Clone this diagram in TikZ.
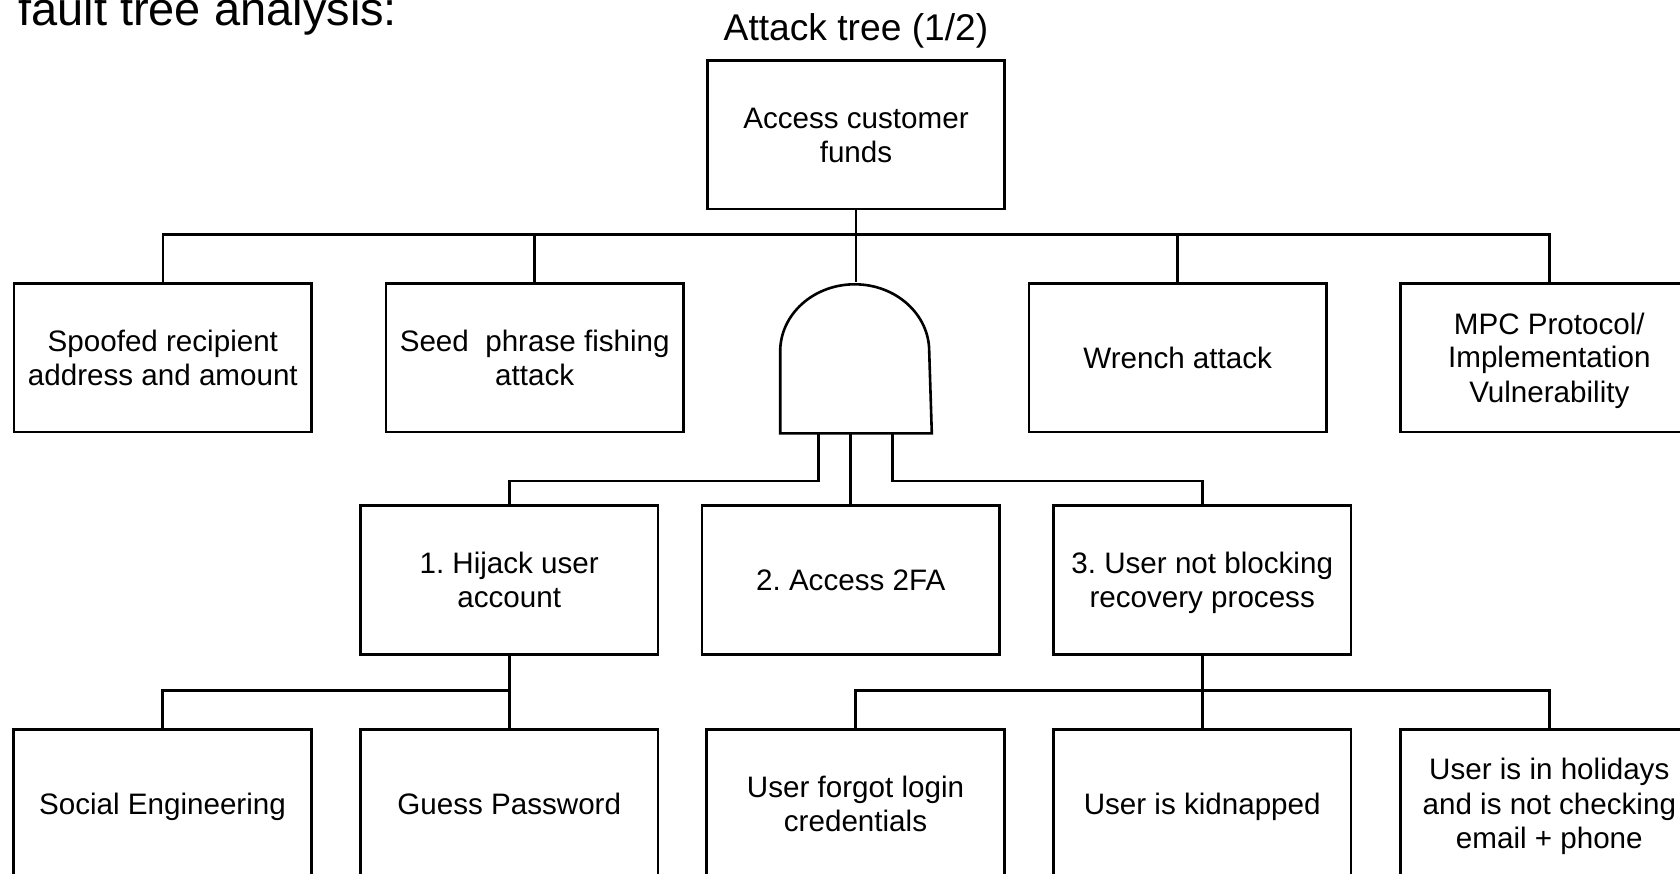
\documentclass[tikz,border=0pt]{standalone}
\usepackage{fontspec}
\setmainfont{Liberation Sans}
\frenchspacing
% strut placed at the start of every text line: equal height and depth per line
\newcommand{\strutline}{\rule[-6.1pt]{0pt}{33.3pt}}
\begin{document}
\begin{tikzpicture}[x=1pt,y=-1pt,
  line width=2.6pt, line join=miter,
  box/.style={draw, rectangle, minimum width=297.5pt, minimum height=148.7pt,
    inner sep=0pt, align=center, font=\fontsize{29.6}{33.3}\selectfont},
  gatebox/.style={rectangle, minimum width=149pt, minimum height=148.7pt, inner sep=0pt},
  link/.style={draw}]
\fill[white] (0,0) rectangle (1680,874);
\useasboundingbox (0,0) rectangle (1680,874);
\clip (0,0) rectangle (1680,874);

% headings
\node[anchor=base west, inner sep=0pt, font=\fontsize{47}{56}\selectfont] (heading) at (17,26) {fault tree analysis:};
\node[anchor=base, inner sep=0pt, font=\fontsize{37.2}{44}\selectfont] (title) at (856,41) {Attack tree (1/2)};

% top event
\node[box, minimum height=148.3pt] (root) at (856,134.85) {\strutline Access customer\\\strutline funds};

% first level
\node[box] (spoof)  at (162.85,357.65) {\strutline Spoofed recipient\\\strutline address and amount};
\node[box] (seed)   at (534.7,357.65)  {\strutline Seed\ \ phrase fishing\\\strutline attack};
\node[gatebox] (gate) at (856,357.65) {};
\node[box] (wrench) at (1177.65,357.65) {\strutline Wrench attack};
\node[box] (mpc)    at (1549.3,357.65) {\strutline MPC Protocol/\\\strutline Implementation\\\strutline Vulnerability};

% AND gate outline
\draw (gate.south west) -- ++(0pt,82pt)
  arc[start angle=180, end angle=0, x radius=74.5pt, y radius=67pt]
  -- (gate.south east) -- cycle;

% second level
\node[box] (hijack) at (509.2,580.05)  {\strutline 1. Hijack user\\\strutline account};
\node[box] (twofa)  at (850.7,580.05)  {\strutline 2. Access 2FA};
\node[box] (unb)    at (1202.2,580.05) {\strutline 3. User not blocking\\\strutline recovery process};

% third level
\node[box] (social)  at (162.5,803.65)  {\strutline Social Engineering};
\node[box] (guess)   at (509.2,803.65)  {\strutline Guess Password};
\node[box] (forgot)  at (855.5,803.65)  {\strutline User forgot login\\\strutline credentials};
\node[box] (kidnap)  at (1202.2,803.65) {\strutline User is kidnapped};
\node[box] (holiday) at (1549.3,803.65) {\strutline User is in holidays\\\strutline and is not checking\\\strutline email + phone};

% bus levels and gate inputs
\coordinate (busA) at (0,234.3);
\coordinate (busB) at (0,481);
\coordinate (busC) at (0,690.7);
\coordinate (in1) at (818.7,432);
\coordinate (in2) at (850.7,432);
\coordinate (in3) at (892.7,432);

% connectors
\foreach \c in {spoof,seed,gate,wrench,mpc}
  \draw[link] (root.south) -- (root.south |- busA) -| (\c.north);
\draw[link] (in1) -- (in1 |- busB) -| (hijack.north);
\draw[link] (in2) -- (twofa.north);
\draw[link] (in3) -- (in3 |- busB) -| (unb.north);
\foreach \c in {social,guess}
  \draw[link] (hijack.south) -- (hijack.south |- busC) -| (\c.north);
\foreach \c in {forgot,kidnap,holiday}
  \draw[link] (unb.south) -- (unb.south |- busC) -| (\c.north);
\end{tikzpicture}
\end{document}
